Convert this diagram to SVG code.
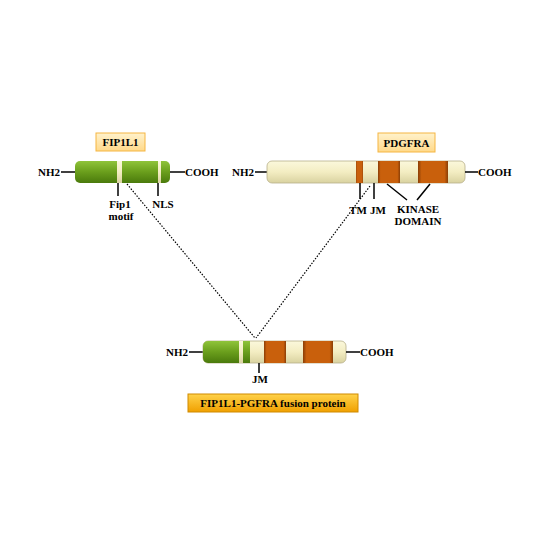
<svg xmlns="http://www.w3.org/2000/svg" width="550" height="550" viewBox="0 0 550 550">
<defs>
<linearGradient id="gGreen" x1="0" y1="0" x2="0" y2="1"><stop offset="0" stop-color="#8fc43a"/><stop offset="0.5" stop-color="#6a9e1c"/><stop offset="1" stop-color="#4a7a0c"/></linearGradient>
<linearGradient id="gCream" x1="0" y1="0" x2="0" y2="1"><stop offset="0" stop-color="#fbf8dc"/><stop offset="0.5" stop-color="#f3edc2"/><stop offset="1" stop-color="#d9d2a0"/></linearGradient>
<linearGradient id="gOrange" x1="0" y1="0" x2="1" y2="0"><stop offset="0" stop-color="#8a3e06"/><stop offset="0.12" stop-color="#c9600c"/><stop offset="0.88" stop-color="#c9600c"/><stop offset="1" stop-color="#8a3e06"/></linearGradient>
<linearGradient id="gLabel" x1="0" y1="0" x2="0" y2="1"><stop offset="0" stop-color="#fff2cc"/><stop offset="1" stop-color="#ffd98a"/></linearGradient>
<linearGradient id="gGold" x1="0" y1="0" x2="0" y2="1"><stop offset="0" stop-color="#ffd24a"/><stop offset="1" stop-color="#f0a000"/></linearGradient>
</defs>
<style>
text{font-family:"Liberation Serif","Times New Roman",serif;font-weight:bold;font-size:11px;fill:#000}
.ln{stroke:#000;stroke-width:1.5;fill:none}
.dot{stroke:#000;stroke-width:1.2;stroke-dasharray:1.5 1.5;fill:none}
.lbl{fill:url(#gLabel);stroke:#f5b642;stroke-width:1}
.gold{fill:url(#gGold);stroke:#d08a00;stroke-width:1}
.green{fill:url(#gGreen)}
.cream{fill:url(#gCream)}
.orange{fill:url(#gOrange)}
.outline{fill:none;stroke:#b8b08a;stroke-width:0.8}
</style>
<rect width="550" height="550" fill="#fff"/>

<g id="connectors">
<path class="dot" d="M127 184 L255 338"/>
<path class="dot" d="M370 186 L256 338"/>
</g>

<g id="fip1l1">
<rect class="lbl" x="96" y="133" width="49" height="18"/>
<text x="120.5" y="146" text-anchor="middle">FIP1L1</text>
<line class="ln" x1="61" y1="172" x2="75" y2="172"/>
<text x="60" y="175.5" text-anchor="end">NH2</text>
<rect class="green" x="75" y="161" width="95" height="22" rx="5"/>
<rect class="cream" x="117" y="161" width="5" height="22"/>
<rect class="cream" x="158" y="161" width="3" height="22"/>
<line class="ln" x1="170" y1="172" x2="185" y2="172"/>
<text x="185" y="175.5">COOH</text>
<line class="ln" x1="118" y1="183" x2="118" y2="196"/>
<line class="ln" x1="158" y1="183" x2="158" y2="196"/>
<text x="120" y="208" text-anchor="middle">Fip1</text>
<text x="121" y="220" text-anchor="middle">motif</text>
<text x="163" y="208" text-anchor="middle">NLS</text>
</g>

<g id="pdgfra">
<rect class="lbl" x="378" y="133" width="57" height="19"/>
<text x="406.5" y="146.5" text-anchor="middle">PDGFRA</text>
<line class="ln" x1="255" y1="172" x2="267" y2="172"/>
<text x="254" y="175.5" text-anchor="end">NH2</text>
<rect class="cream" x="267" y="161" width="198" height="22" rx="5"/>
<rect class="outline" x="267" y="161" width="198" height="22" rx="5"/>
<rect class="orange" x="356" y="161" width="7" height="22"/>
<rect class="orange" x="378" y="161" width="22" height="22"/>
<rect class="orange" x="418" y="161" width="30" height="22"/>
<line class="ln" x1="465" y1="172" x2="478" y2="172"/>
<text x="478" y="175.5">COOH</text>
<line class="ln" x1="360" y1="183" x2="360" y2="199"/>
<line class="ln" x1="374" y1="183" x2="374" y2="199"/>
<line class="ln" x1="387" y1="184" x2="407" y2="200"/>
<line class="ln" x1="430" y1="184" x2="417" y2="200"/>
<text x="358" y="214" text-anchor="middle">TM</text>
<text x="378" y="214" text-anchor="middle">JM</text>
<text x="418" y="213" text-anchor="middle">KINASE</text>
<text x="418" y="225" text-anchor="middle">DOMAIN</text>
</g>

<g id="fusion">
<line class="ln" x1="189" y1="352" x2="203" y2="352"/>
<text x="188" y="355.5" text-anchor="end">NH2</text>
<rect class="cream" x="203" y="341" width="143" height="22" rx="5"/>
<rect class="outline" x="203" y="341" width="143" height="22" rx="5"/>
<path class="green" d="M208 341 H250 V363 H208 A5 5 0 0 1 203 358 V346 A5 5 0 0 1 208 341 Z"/>
<rect class="cream" x="239" y="341" width="4" height="22"/>
<rect class="orange" x="264" y="341" width="22" height="22"/>
<rect class="orange" x="303" y="341" width="30" height="22"/>
<line class="ln" x1="346" y1="352" x2="360" y2="352"/>
<text x="360" y="355.5">COOH</text>
<line class="ln" x1="259" y1="363" x2="259" y2="373"/>
<text x="260" y="383" text-anchor="middle">JM</text>
<rect class="gold" x="188" y="394" width="170" height="18"/>
<text x="273" y="407" text-anchor="middle">FIP1L1-PGFRA fusion protein</text>
</g>
</svg>
